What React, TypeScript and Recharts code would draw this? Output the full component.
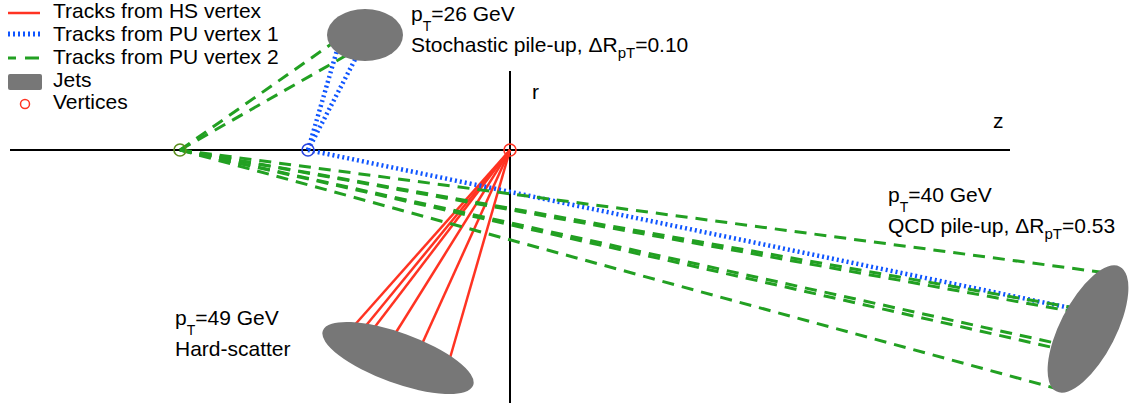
import React from 'react'
import { ComposedChart, Line, Scatter, XAxis, YAxis, ReferenceLine, Legend } from 'recharts'

const W = 1135
const H = 403

// z along the beam, r transverse; origin at the hard-scatter vertex (schematic units)
const zDomain = [-510, 625]
const rDomain = [-253, 150]
const kx = W / (zDomain[1] - zDomain[0])
const ky = H / (rDomain[1] - rDomain[0])

const RED = '#ff3322'
const BLUE = '#0f55ff'
const GREEN = '#22a022'
const JET = '#777777'
const FONT = '"Liberation Sans", Arial, Helvetica, sans-serif'

const vertices = [
  { name: 'HS', z: 0, r: 0, color: '#ff3322' },
  { name: 'PU1', z: -202, r: 0, color: '#2a45e0' },
  { name: 'PU2', z: -330, r: 0, color: '#5b8f1d' },
]

const hsTrackEnds = [
  { z: -158, r: -178 },
  { z: -146, r: -178 },
  { z: -136, r: -178 },
  { z: -115, r: -184 },
  { z: -88, r: -194 },
  { z: -60, r: -208 },
]

const pu1TrackEnds = [
  { z: -170, r: 110 },
  { z: -149, r: 102 },
  { z: 570, r: -160 },
]

const pu2TrackEnds = [
  { z: -173, r: 110 },
  { z: -156, r: 99 },
  { z: 590, r: -122 },
  { z: 565, r: -158 },
  { z: 565, r: -162 },
  { z: 545, r: -193 },
  { z: 545, r: -198 },
  { z: 548, r: -239 },
]

// jet cones seen edge-on: centre, half-axes and tilt (deg)
const jets = [
  { z: -145, r: 115, a: 38, b: 26, tilt: 0 },
  { z: -112, r: -208, a: 80, b: 25, tilt: 20 },
  { z: 578, r: -179, a: 70, b: 28, tilt: -63 },
]

const jetNotes = [
  { z: -99, r: 129, pt: '26', kind: 'Stochastic pile-up', drpt: '0.10' },
  { z: 378, r: -52, pt: '40', kind: 'QCD pile-up', drpt: '0.53' },
  { z: -335, r: -175, pt: '49', kind: 'Hard-scatter', drpt: '' },
]

const axisLabels = [
  { z: 22, r: 51, text: 'r' },
  { z: 483, r: 22, text: 'z' },
]

const legendItems = [
  { label: 'Tracks from HS vertex', kind: 'hs' },
  { label: 'Tracks from PU vertex 1', kind: 'pu1' },
  { label: 'Tracks from PU vertex 2', kind: 'pu2' },
  { label: 'Jets', kind: 'jet' },
  { label: 'Vertices', kind: 'vtx' },
]

const trackStyles = {
  hs: { stroke: RED, strokeWidth: 2.5, strokeDasharray: undefined },
  pu1: { stroke: BLUE, strokeWidth: 4.5, strokeDasharray: '2 3' },
  pu2: { stroke: GREEN, strokeWidth: 3, strokeDasharray: '12 8' },
}

const tracks = [
  ...hsTrackEnds.map((e) => ({ kind: 'hs', pts: [vertices[0], e] })),
  ...pu1TrackEnds.map((e) => ({ kind: 'pu1', pts: [vertices[1], e] })),
  ...pu2TrackEnds.map((e) => ({ kind: 'pu2', pts: [vertices[2], e] })),
]

const JetShape = (props: any) => {
  const { cx, cy, payload } = props
  return (
    <ellipse
      cx={cx}
      cy={cy}
      rx={payload.a * kx}
      ry={payload.b * ky}
      transform={`rotate(${payload.tilt} ${cx} ${cy})`}
      fill={JET}
    />
  )
}

const VertexShape = (props: any) => {
  const { cx, cy, payload } = props
  return <circle cx={cx} cy={cy} r={6} fill="none" stroke={payload.color} strokeWidth={1.6} />
}

const NoteShape = (props: any) => {
  const { cx, cy, payload } = props
  return (
    <g fontFamily={FONT} fontSize={21} fill="#000">
      <text x={cx} y={cy}>
        p<tspan fontSize={14} dy={10}>T</tspan>
        <tspan dy={-10}>={payload.pt} GeV</tspan>
      </text>
      <text x={cx} y={cy + 31}>
        {payload.kind}
        {payload.drpt && (
          <>
            , ΔR<tspan fontSize={15} dy={6}>pT</tspan>
            <tspan dy={-6}>={payload.drpt}</tspan>
          </>
        )}
      </text>
    </g>
  )
}

const AxisLabelShape = (props: any) => {
  const { cx, cy, payload } = props
  return (
    <text x={cx} y={cy} fontFamily={FONT} fontSize={21} fill="#000">
      {payload.text}
    </text>
  )
}

const LegendBox = () => {
  const rows = [18, 41, 64, 87, 109]
  return (
    <svg width={300} height={116} style={{ display: 'block' }}>
      {legendItems.map((it, i) => {
        const y = rows[i]
        let mark = null
        if (it.kind === 'hs') mark = <line x1={8} x2={40} y1={y - 5} y2={y - 5} stroke={RED} strokeWidth={2.5} />
        if (it.kind === 'pu1')
          mark = <line x1={8} x2={40} y1={y - 7} y2={y - 7} stroke={BLUE} strokeWidth={5} strokeDasharray="2 3" />
        if (it.kind === 'pu2')
          mark = (
            <line x1={8} x2={41} y1={y - 6} y2={y - 6} stroke={GREEN} strokeWidth={3} strokeDasharray="14 9" strokeDashoffset={6} />
          )
        if (it.kind === 'jet') mark = <rect x={8} y={y - 13} width={34} height={16} rx={2} fill={JET} />
        if (it.kind === 'vtx') mark = <circle cx={25} cy={y - 5} r={4.5} fill="none" stroke={RED} strokeWidth={1.5} />
        return (
          <g key={it.label}>
            {mark}
            <text x={53} y={y} fontFamily={FONT} fontSize={21} fill="#000">
              {it.label}
            </text>
          </g>
        )
      })}
    </svg>
  )
}

export default function App() {
  return (
    <div style={{ width: W, height: H, background: '#fff' }}>
      <style>{'body{margin:0}'}</style>
      <ComposedChart width={W} height={H} margin={{ top: 0, right: 0, bottom: 0, left: 0 }}>
        <XAxis dataKey="z" type="number" domain={zDomain} allowDataOverflow hide />
        <YAxis dataKey="r" type="number" domain={rDomain} allowDataOverflow hide />
        <ReferenceLine segment={[{ x: -500, y: 0 }, { x: 500, y: 0 }]} stroke="#000" strokeWidth={2} />
        <ReferenceLine segment={[{ x: 0, y: 79 }, { x: 0, y: -253 }]} stroke="#000" strokeWidth={2} />
        {tracks.map((t, i) => {
          const s = trackStyles[t.kind as keyof typeof trackStyles]
          return (
            <Line
              key={`trk-${i}`}
              data={t.pts}
              dataKey="r"
              type="linear"
              stroke={s.stroke}
              strokeWidth={s.strokeWidth}
              strokeDasharray={s.strokeDasharray}
              dot={false}
              activeDot={false}
              legendType="none"
              isAnimationActive={false}
            />
          )
        })}
        <Scatter data={jets} dataKey="r" shape={JetShape} legendType="none" isAnimationActive={false} />
        <Scatter data={vertices} dataKey="r" shape={VertexShape} legendType="none" isAnimationActive={false} />
        <Scatter data={jetNotes} dataKey="r" shape={NoteShape} legendType="none" isAnimationActive={false} />
        <Scatter data={axisLabels} dataKey="r" shape={AxisLabelShape} legendType="none" isAnimationActive={false} />
        <Legend
          layout="horizontal"
          verticalAlign="middle"
          align="center"
          wrapperStyle={{ top: 0, left: 0, width: 300, height: 116 }}
          content={() => <LegendBox />}
        />
      </ComposedChart>
    </div>
  )
}
